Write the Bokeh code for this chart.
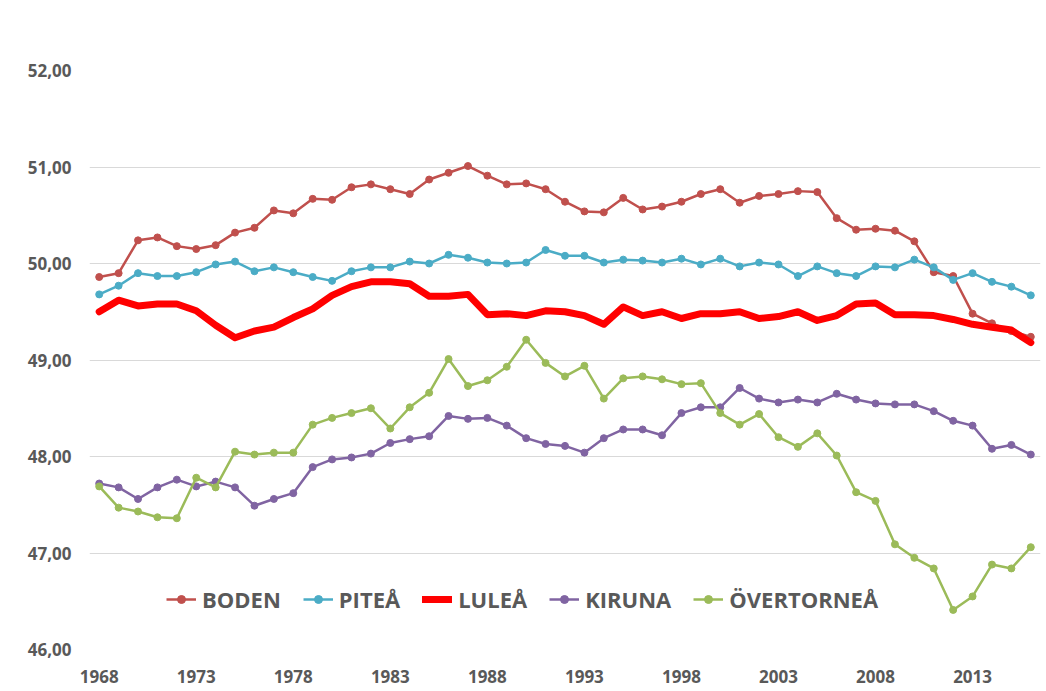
from bokeh.plotting import figure
from bokeh.models import FixedTicker, Legend
from bokeh.embed import file_html
from bokeh.resources import INLINE

years = [1968, 1969, 1970, 1971, 1972, 1973, 1974, 1975, 1976, 1977,
         1978, 1979, 1980, 1981, 1982, 1983, 1984, 1985, 1986, 1987,
         1988, 1989, 1990, 1991, 1992, 1993, 1994, 1995, 1996, 1997,
         1998, 1999, 2000, 2001, 2002, 2003, 2004, 2005, 2006, 2007,
         2008, 2009, 2010, 2011, 2012, 2013, 2014, 2015, 2016]

boden = [49.86, 49.90, 50.24, 50.27, 50.18, 50.15, 50.19, 50.32, 50.37, 50.55,
         50.52, 50.67, 50.66, 50.79, 50.82, 50.77, 50.72, 50.87, 50.94, 51.01,
         50.91, 50.82, 50.83, 50.77, 50.64, 50.54, 50.53, 50.68, 50.56, 50.59,
         50.64, 50.72, 50.77, 50.63, 50.70, 50.72, 50.75, 50.74, 50.47, 50.35,
         50.36, 50.34, 50.23, 49.91, 49.87, 49.48, 49.38, 49.30, 49.24]

pitea = [49.68, 49.77, 49.90, 49.87, 49.87, 49.91, 49.99, 50.02, 49.92, 49.96,
         49.91, 49.86, 49.82, 49.92, 49.96, 49.96, 50.02, 50.00, 50.09, 50.06,
         50.01, 50.00, 50.01, 50.14, 50.08, 50.08, 50.01, 50.04, 50.03, 50.01,
         50.05, 49.99, 50.05, 49.97, 50.01, 49.99, 49.87, 49.97, 49.90, 49.87,
         49.97, 49.96, 50.04, 49.96, 49.83, 49.90, 49.81, 49.76, 49.67]

lulea = [49.50, 49.62, 49.56, 49.58, 49.58, 49.51, 49.36, 49.23, 49.30, 49.34,
         49.44, 49.53, 49.67, 49.76, 49.81, 49.81, 49.79, 49.66, 49.66, 49.68,
         49.47, 49.48, 49.46, 49.51, 49.50, 49.46, 49.37, 49.55, 49.46, 49.50,
         49.43, 49.48, 49.48, 49.50, 49.43, 49.45, 49.50, 49.41, 49.46, 49.58,
         49.59, 49.47, 49.47, 49.46, 49.42, 49.37, 49.34, 49.31, 49.18]

kiruna = [47.72, 47.68, 47.56, 47.68, 47.76, 47.69, 47.74, 47.68, 47.49, 47.56,
          47.62, 47.89, 47.97, 47.99, 48.03, 48.14, 48.18, 48.21, 48.42, 48.39,
          48.40, 48.32, 48.19, 48.13, 48.11, 48.04, 48.19, 48.28, 48.28, 48.22,
          48.45, 48.51, 48.51, 48.71, 48.60, 48.56, 48.59, 48.56, 48.65, 48.59,
          48.55, 48.54, 48.54, 48.47, 48.37, 48.32, 48.08, 48.12, 48.02]

overtornea = [47.69, 47.47, 47.43, 47.37, 47.36, 47.78, 47.68, 48.05, 48.02, 48.04,
              48.04, 48.33, 48.40, 48.45, 48.50, 48.29, 48.51, 48.66, 49.01, 48.73,
              48.79, 48.93, 49.21, 48.97, 48.83, 48.94, 48.60, 48.81, 48.83, 48.80,
              48.75, 48.76, 48.45, 48.33, 48.44, 48.20, 48.10, 48.24, 48.01, 47.63,
              47.54, 47.09, 46.95, 46.84, 46.41, 46.55, 46.88, 46.84, 47.06]

x_ticks = [1968, 1973, 1978, 1983, 1988, 1993, 1998, 2003, 2008, 2013]
y_ticks = [46, 47, 48, 49, 50, 51, 52]
y_labels = ["46,00", "47,00", "48,00", "49,00", "50,00", "51,00", "52,00"]

names = ["BODEN", "PITEÅ", "LULEÅ", "KIRUNA", "ÖVERTORNEÅ"]
series = [boden, pitea, lulea, kiruna, overtornea]
colors = ["#C0504D", "#4BACC6", "#FF0000", "#8064A2", "#9BBB59"]

FONT = "Open Sans"
TXT = "#595959"

p = figure(width=1046, height=690, output_backend="svg", toolbar_location=None,
           x_range=(1967.5, 2016.5), y_range=(46, 52),
           min_border_left=89, min_border_right=6, min_border_top=70, min_border_bottom=41)
p.outline_line_color = None
p.background_fill_color = "white"
p.border_fill_color = "white"

p.xgrid.grid_line_color = None
p.ygrid.grid_line_color = "#D9D9D9"
p.ygrid.grid_line_width = 1

p.xaxis.ticker = FixedTicker(ticks=x_ticks)
p.yaxis.ticker = FixedTicker(ticks=y_ticks)
p.yaxis.major_label_overrides = {t: l for t, l in zip(y_ticks, y_labels)}
for ax in (p.xaxis, p.yaxis):
    ax.axis_line_color = None
    ax.major_tick_line_color = None
    ax.minor_tick_line_color = None
    ax.major_tick_out = 0
    ax.major_tick_in = 0
    ax.major_label_text_font = FONT
    ax.major_label_text_font_style = "bold"
    ax.major_label_text_font_size = "17px"
    ax.major_label_text_color = TXT
p.xaxis.major_label_standoff = 20
p.yaxis.major_label_standoff = 18

items = []
for name, vals, col in zip(names, series, colors):
    if name == "LULEÅ":
        r1 = p.line(years, vals, line_color=col, line_width=7, line_join="round", line_cap="round")
        items.append((name, [r1]))
    else:
        r1 = p.line(years, vals, line_color=col, line_width=2.5, line_join="round")
        r2 = p.scatter(years, vals, marker="circle", size=7, fill_color=col, line_color=col)
        items.append((name, [r1, r2]))

legend = Legend(items=items, orientation="horizontal", location=(77, 35),
                label_text_font=FONT, label_text_font_style="bold",
                label_text_font_size="22px", label_text_color=TXT,
                glyph_width=30, glyph_height=20, label_standoff=6, spacing=22,
                background_fill_alpha=0, border_line_color=None, padding=4, margin=0)
p.add_layout(legend, "center")

open("out.html", "w").write(file_html(p, INLINE))
